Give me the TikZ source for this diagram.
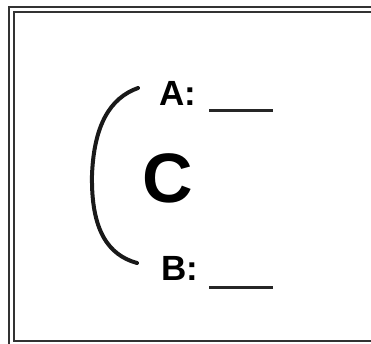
\documentclass[tikz,border=0pt]{standalone}
\usepackage{fontspec}
\setmainfont{Liberation Sans}
\definecolor{framegray}{HTML}{333333}
\tikzset{
  frameline/.style={framegray, line width=1.6pt},
  labeltext/.style={font=\fontsize{35}{40}\selectfont\bfseries, anchor=base west, inner sep=0pt},
  blankline/.style={black!85, line width=3pt},
  bracketline/.style={black!90, line width=4pt, line cap=round}
}
\begin{document}
\begin{tikzpicture}[x=1pt, y=-1pt]
  \useasboundingbox (0,0) rectangle (371,343);
  \clip (0,0) rectangle (371,343);
  % double frame, cut off at right and bottom
  \draw[frameline] (9,7) rectangle (390,360);
  \draw[frameline] (14,12) rectangle (390,341);
  % labels
  \node[labeltext] (labA) at (159,105) {A:};
  \node[labeltext] (labB) at (161,280) {B:};
  \node[labeltext, font=\fontsize{70}{80}\selectfont\bfseries] (letC) at (142,202) {C};
  % blanks
  \draw[blankline] (209,110) -- (273,110);
  \draw[blankline] (209,287) -- (273,287);
  % bracket
  \coordinate (brtop) at (138,88);
  \coordinate (brmid) at (92,175);
  \coordinate (brbot) at (137,263);
  \draw[bracketline] (brtop) .. controls (110,98) and (94,125) .. (brmid)
                             .. controls (91,230) and (108,255) .. (brbot);
\end{tikzpicture}
\end{document}
